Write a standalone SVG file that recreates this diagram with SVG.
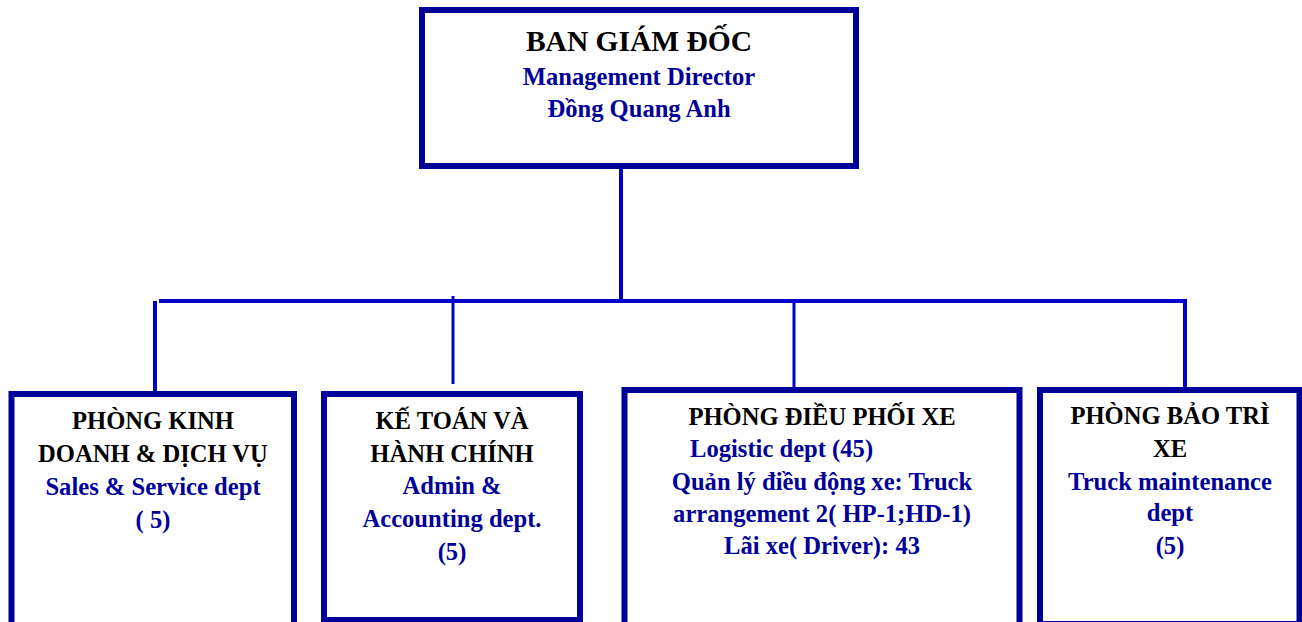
<svg xmlns="http://www.w3.org/2000/svg" width="1302" height="622" viewBox="0 0 1302 622">
<style>
.box{fill:#fff;stroke:#000099;stroke-width:6}
.ln{stroke:#0000CC;fill:none}
text{font-family:"Liberation Serif","Times New Roman",serif;font-weight:bold;text-anchor:middle}
.h{fill:#000;font-size:24.6px}
.t{fill:#000;font-size:29.5px}
.s{fill:#000099;font-size:24.6px}
</style>
<rect width="1302" height="622" fill="#fff"/>
<g id="connectors">
<line class="ln" x1="621" y1="169" x2="621" y2="303" stroke-width="4"/>
<line class="ln" x1="159" y1="301" x2="1187" y2="301" stroke-width="4"/>
<line class="ln" x1="155" y1="301" x2="155" y2="391" stroke-width="4"/>
<line class="ln" x1="453" y1="296" x2="453" y2="384" stroke-width="3"/>
<line class="ln" x1="794" y1="301" x2="794" y2="387" stroke-width="3"/>
<line class="ln" x1="1185" y1="299" x2="1185" y2="387" stroke-width="4"/>
</g>
<g id="director">
<rect class="box" x="422" y="10" width="434" height="156"/>
<text class="t" x="639" y="51">BAN GIÁM ĐỐC</text>
<text class="s" x="639" y="85">Management Director</text>
<text class="s" x="639" y="117">Đồng Quang Anh</text>
</g>
<g id="sales">
<rect class="box" x="11.5" y="394" width="282.5" height="240"/>
<text class="h" x="153" y="429">PHÒNG KINH</text>
<text class="h" x="153" y="462">DOANH &amp; DỊCH VỤ</text>
<text class="s" x="153" y="495">Sales &amp; Service dept</text>
<text class="s" x="153" y="528">( 5)</text>
</g>
<g id="admin">
<rect class="box" x="324" y="394" width="256" height="226"/>
<text class="h" x="452" y="429">KẾ TOÁN VÀ</text>
<text class="h" x="452" y="462">HÀNH CHÍNH</text>
<text class="s" x="452" y="494">Admin &amp;</text>
<text class="s" x="452" y="527">Accounting dept.</text>
<text class="s" x="452" y="560">(5)</text>
</g>
<g id="logistic">
<rect class="box" x="624.5" y="390" width="395" height="250"/>
<text class="h" x="822" y="425">PHÒNG ĐIỀU PHỐI XE</text>
<text class="s" x="690" y="457" style="text-anchor:start">Logistic dept (45)</text>
<text class="s" x="822" y="490">Quản lý điều động xe: Truck</text>
<text class="s" x="822" y="522">arrangement 2( HP-1;HD-1)</text>
<text class="s" x="822" y="554">Lãi xe( Driver): 43</text>
</g>
<g id="maintenance">
<rect class="box" x="1040" y="390" width="259.5" height="234"/>
<text class="h" x="1170" y="424">PHÒNG BẢO TRÌ</text>
<text class="h" x="1170" y="457">XE</text>
<text class="s" x="1170" y="490">Truck maintenance</text>
<text class="s" x="1170" y="521">dept</text>
<text class="s" x="1170" y="554">(5)</text>
</g>
</svg>
